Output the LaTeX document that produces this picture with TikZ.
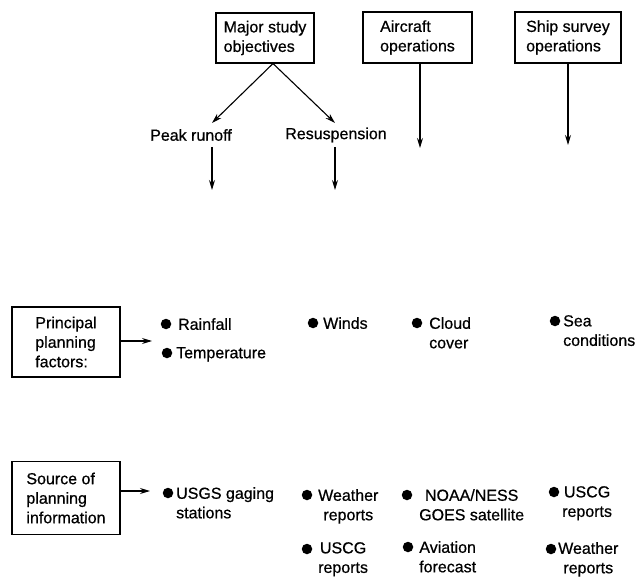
\documentclass[tikz,border=0pt]{standalone}
\usepackage{fontspec}
\setmainfont{Liberation Sans}[UprightFeatures={FakeBold=0.6}]
\usetikzlibrary{arrows.meta}

\begin{document}
\begin{tikzpicture}[x=1pt,y=-1pt,
    font=\fontsize{16}{19.5}\selectfont,
    box/.style={draw, line width=1.1pt, align=left, inner sep=0pt},
    arr/.style={line width=1.1pt, -{Stealth[length=10pt,width=6pt]}},
    dot/.style={circle, fill=black, inner sep=0pt, minimum size=10.5pt},
    itm/.style={anchor=north west, inner sep=0pt, align=center}]
    \useasboundingbox (0,0) rectangle (642,577);
    % top boxes
    \node[box, minimum width=98pt, minimum height=50pt] (major) at (265,38) {Major study\\objectives};
    \node[box, minimum width=109pt, minimum height=51pt] (air) at (417.5,37.5) {Aircraft\\operations};
    \node[box, minimum width=106pt, minimum height=51pt] (ship) at (568,37.5) {Ship survey\\operations};
    \node (peak) at (191,135) {Peak runoff};
    \node (resus) at (336,135) {Resuspension};
    \coordinate (pktip) at (212,123);
    \coordinate (rstip) at (335,123);
    \draw[arr] ([xshift=8pt]major.south) -- (pktip);
    \draw[arr] ([xshift=8pt]major.south) -- (rstip);
    \coordinate (pkA) at (212,147);
    \coordinate (pkB) at (212,190);
    \coordinate (rsA) at (335,147);
    \coordinate (rsB) at (335,190);
    \draw[arr] (pkA) -- (pkB);
    \draw[arr] (rsA) -- (rsB);
    \coordinate (airend) at (420,148);
    \coordinate (shipend) at (568,145);
    \draw[arr] (air.south -| airend) -- (airend);
    \draw[arr] (ship.south -| shipend) -- (shipend);
    % planning factors
    \node[box, minimum width=108pt, minimum height=70pt] (pf) at (66,342) {Principal\\planning\\factors:};
    \coordinate (pfend) at (152,341);
    \draw[arr] (pf.east |- pfend) -- (pfend);
    \node[dot] (drain) at (166,324) {};
    \node[itm] (rain) at (178,318) {Rainfall};
    \node[dot] (dtemp) at (167,353) {};
    \node[itm] (temp) at (176,347) {Temperature};
    \node[dot] (dwind) at (313,323) {};
    \node[itm] (wind) at (323,317) {Winds};
    \node[dot] (dcloud) at (417,323) {};
    \node[itm, align=left] (cloud) at (429,317) {Cloud\\cover};
    \node[dot] (dsea) at (555,321) {};
    \node[itm, align=left] (sea) at (563,315) {Sea\\conditions};
    % sources
    \node[box, minimum width=108pt, minimum height=73pt] (src) at (66,498) {Source of\\planning\\information};
    \coordinate (srcend) at (150,491);
    \draw[arr] (src.east |- srcend) -- (srcend);
    \node[dot] (dusgs) at (168,493) {};
    \node[itm, align=left] (usgs) at (176,487) {USGS gaging\\stations};
    \node[dot] (dwxa) at (307,495) {};
    \node[itm] (wxa) at (318,489) {Weather\\reports};
    \node[dot] (dnoaa) at (407,495) {};
    \node[itm] (noaa) at (419,489) {NOAA/NESS\\GOES satellite};
    \node[dot] (duscga) at (554,492) {};
    \node[itm] (uscga) at (562,486) {USCG\\reports};
    \node[dot] (duscgb) at (307,549) {};
    \node[itm] (uscgb) at (318,542) {USCG\\reports};
    \node[dot] (davia) at (408,547) {};
    \node[itm] (avia) at (419,541) {Aviation\\forecast};
    \node[dot] (dwxb) at (551,549) {};
    \node[itm] (wxb) at (558,542) {Weather\\reports};
\end{tikzpicture}
\end{document}
